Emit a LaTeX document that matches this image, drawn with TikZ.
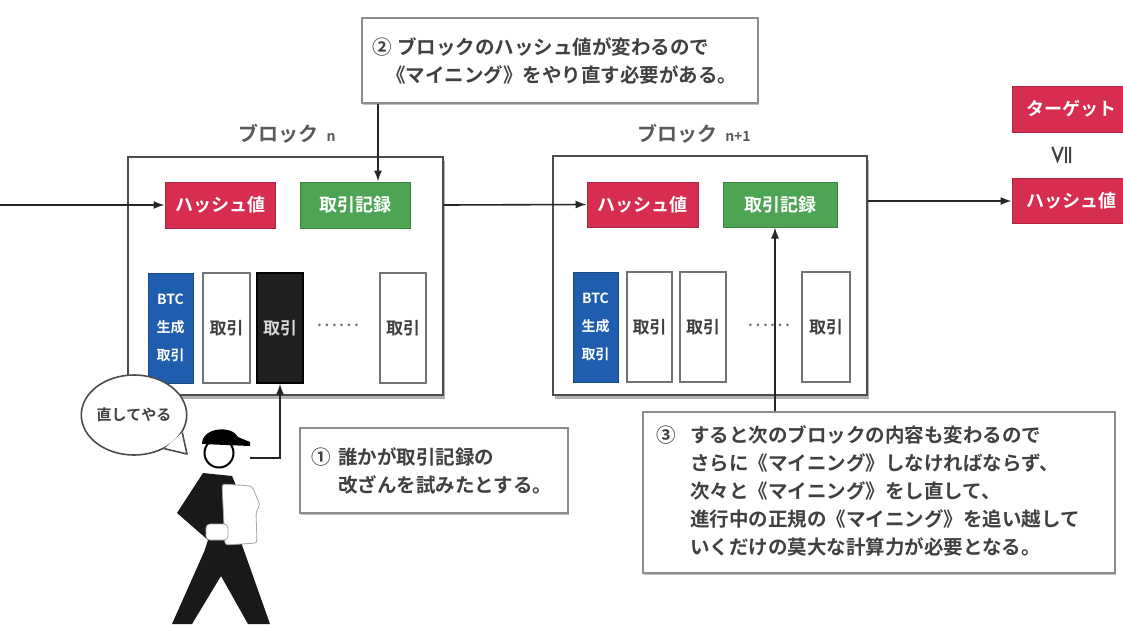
\documentclass[tikz,border=0pt]{standalone}
\usepackage{fontspec}
\newfontfamily\jp{Noto Sans CJK JP}[BoldFont={* Bold}]
\usetikzlibrary{arrows.meta,calc,shapes.geometric,shadows}
\definecolor{hashred}{HTML}{D62D50}
\definecolor{datagreen}{HTML}{4DA453}
\definecolor{btcblue}{HTML}{1F5EAE}
\begin{document}
\begin{tikzpicture}[x=1pt,y=-1pt,
  every node/.style={font=\jp, inner sep=0pt},
  blockframe/.style={draw=black!70, line width=1.8pt, fill=white,
    drop shadow={shadow xshift=2pt, shadow yshift=-4pt, fill=black!30, opacity=1}},
  blocklabel/.style={text=black!65, font=\jp\bfseries\fontsize{20}{20}\selectfont},
  hashbox/.style={fill=hashred, draw=hashred!80!black, line width=1pt, text=white,
    font=\jp\bfseries\fontsize{18}{18}\selectfont},
  databox/.style={fill=datagreen, draw=datagreen!80!black, line width=1pt, text=white,
    font=\jp\bfseries\fontsize{18}{18}\selectfont},
  btcbox/.style={fill=btcblue, draw=btcblue!80!black, line width=1pt, text=white,
    align=center, font=\jp\bfseries\fontsize{14}{28}\selectfont},
  txbox/.style={fill=white, draw=black!55, line width=1.3pt, text=black!75,
    font=\jp\bfseries\fontsize{17}{17}\selectfont},
  fakebox/.style={fill=black!88, draw=black, line width=1.3pt, text=white!85!black,
    font=\jp\bfseries\fontsize{17}{17}\selectfont},
  dots/.style={text=black!55, font=\jp\fontsize{20}{20}\selectfont},
  note/.style={fill=white, draw=black!45, line width=1.5pt,
    drop shadow={shadow xshift=1pt, shadow yshift=-2pt, fill=black!25, opacity=1}},
  notetext/.style={text=black!75, align=left, anchor=west,
    font=\jp\bfseries\fontsize{19.5}{28}\selectfont},
  cmp/.style={text=black!75, font=\jp\bfseries\fontsize{22}{22}\selectfont},
  arr/.style={draw=black!85, line width=1.6pt, -{Latex[length=11pt,width=8pt]}},
  bubbleline/.style={draw=black!70, line width=1.6pt}
]
\useasboundingbox (0,0) rectangle (1123,624);
\fill[white] (0,0) rectangle (1123,624);

% the two blocks of the chain
\node[blockframe, minimum width=315pt, minimum height=238pt] (bn) at (285.5,276) {};
\node[blockframe, minimum width=314pt, minimum height=239pt] (bn1) at (710,275.5) {};
\node[blocklabel] (lbn) at (287,134) {ブロック\hspace{8pt}{\fontsize{14}{14}\selectfont n}};
\node[blocklabel] (lbn1) at (694,134) {ブロック\hspace{8pt}{\fontsize{14}{14}\selectfont n+1}};

% headers
\node[hashbox, minimum width=110pt, minimum height=46pt] (h1) at (220,205) {ハッシュ値};
\node[databox, minimum width=110pt, minimum height=46pt] (d1) at (355,205) {取引記録};
\node[hashbox, minimum width=111pt, minimum height=45pt] (h2) at (642.5,204.5) {ハッシュ値};
\node[databox, minimum width=114pt, minimum height=45pt] (d2) at (780,204.5) {取引記録};

% target comparison at the right edge
\node[hashbox, minimum width=118pt, minimum height=46pt] (tg) at (1071,109) {ターゲット};
\node[cmp, rotate=90] (le) at (1062,155) {≦};
\node[hashbox, minimum width=118pt, minimum height=45pt] (h3) at (1071,201) {ハッシュ値};

% transactions of block n
\node[btcbox, minimum width=45pt, minimum height=110pt] (b1) at (170.5,328) {BTC\\生成\\取引};
\node[txbox, minimum width=47pt, minimum height=110pt] (t1) at (226.5,328) {取引};
\node[fakebox, minimum width=46pt, minimum height=110pt] (t2) at (280,328) {取引};
\node[dots] (e1) at (338,325) {……};
\node[txbox, minimum width=46pt, minimum height=110pt] (t3) at (403,328) {取引};

% transactions of block n+1
\node[btcbox, minimum width=45pt, minimum height=110pt] (b2) at (595.5,327) {BTC\\生成\\取引};
\node[txbox, minimum width=45pt, minimum height=110pt] (t4) at (649.5,327) {取引};
\node[txbox, minimum width=46pt, minimum height=110pt] (t5) at (703,327) {取引};
\node[dots] (e2) at (769,325) {……};
\node[txbox, minimum width=48pt, minimum height=110pt] (t6) at (826,327) {取引};

% chain connectors
\coordinate (src) at (0,205);
\draw[arr] (src) -- (h1.west);
\draw[arr] (h1 -| bn.east) -- (h2.west);
\draw[arr] (h3.west -| bn1.east) -- (h3.west);

% explanation notes
\node[note, minimum width=396pt, minimum height=85pt] (c2) at (560,60.5) {};
\node[notetext] (c2t) at (372,61)
  {\makebox[25pt][l]{②}ブロックのハッシュ値が変わるので\\
   \hspace*{14pt}《マイニング》をやり直す必要がある。};
\node[note, minimum width=268pt, minimum height=85pt] (c1) at (434,470.5) {};
\node[notetext] (c1t) at (311,471)
  {\makebox[27pt][l]{①}誰かが取引記録の\\
   \hspace*{27pt}改ざんを試みたとする。};
\node[note, minimum width=472pt, minimum height=161pt] (c3) at (879,492.5) {};
\node[notetext] (c3t) at (656,491)
  {\makebox[34pt][l]{③}すると次のブロックの内容も変わるので\\
   \hspace*{34pt}さらに《マイニング》しなければならず、\\
   \hspace*{34pt}次々と《マイニング》をし直して、\\
   \hspace*{34pt}進行中の正規の《マイニング》を追い越して\\
   \hspace*{34pt}いくだけの莫大な計算力が必要となる。};

\coordinate (d1top) at ($(d1.north)+(23,0)$);
\draw[arr] (c2.south -| d1top) -- (d1top);
\coordinate (d2bot) at ($(d2.south)+(-5,0)$);
\draw[arr] (c3.north -| d2bot) -- (d2bot);

% the person who tampers with a record
\fill[black!90] (203,473) -- (232,476) -- (242,500) -- (242,545) -- (270,624)
  -- (248,624) -- (221,576) -- (192,624) -- (172,624) -- (204,552) -- (208,540)
  -- (177,513) -- cycle;
\filldraw[fill=white, draw=black!35, line width=0.8pt, rounded corners=3pt]
  (222,484) -- (252,486) -- (260,505) -- (256,512) -- (257,543) -- (225,545) -- cycle;
\filldraw[fill=white, draw=black!35, line width=0.8pt, rounded corners=4pt]
  (206,524) rectangle (228,540);
\node[circle, draw=black, line width=2pt, fill=white, minimum size=29pt] (head) at (219,453) {};
\fill[black] (202,444) .. controls (202,427) and (232,425) .. (238,437)
  -- (250,442) -- (250,446) -- cycle;

\coordinate (hand) at (250,458);
\draw[arr] (hand) -| (t2.south);

% speech bubble
\node[ellipse, draw=black!70, line width=1.6pt, fill=white,
  minimum width=102pt, minimum height=80pt, text=black!75,
  font=\jp\bfseries\fontsize{15}{15}\selectfont] (bub) at (134,415) {直してやる};
\coordinate (tail) at (187,454);
\fill[white] (bub.-20) -- (tail) -- (bub.-48) -- cycle;
\draw[bubbleline, line join=round] (bub.-20) -- (tail) -- (bub.-48);
\end{tikzpicture}
\end{document}
